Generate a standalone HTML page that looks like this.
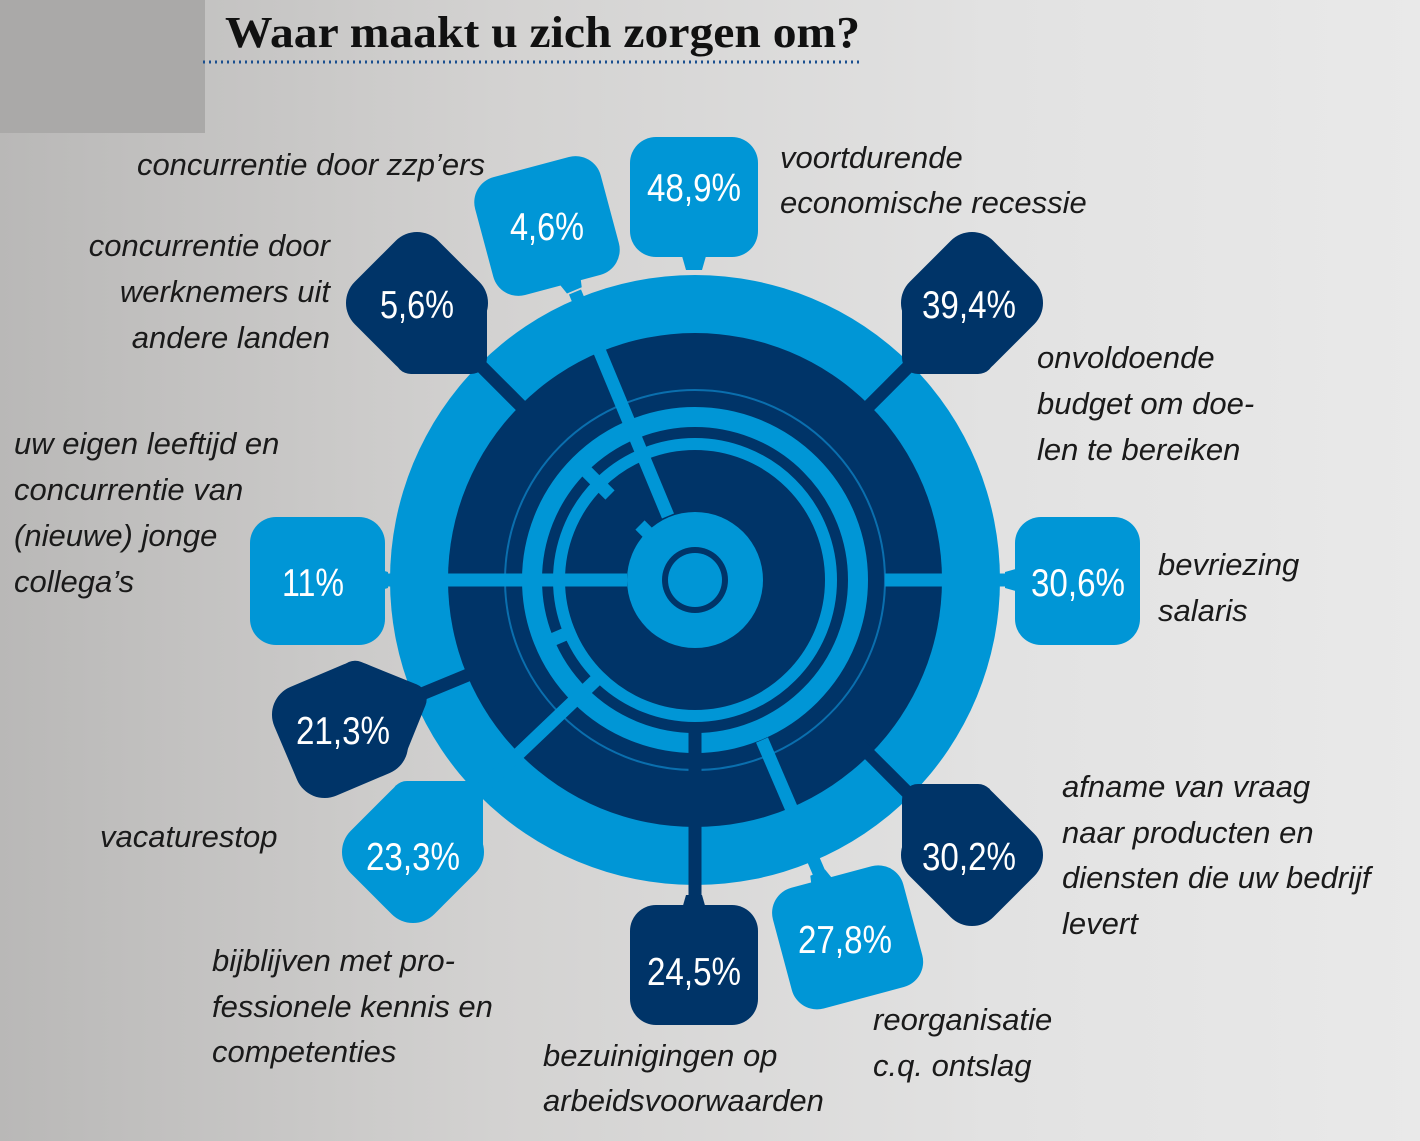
<!DOCTYPE html>
<html><head><meta charset="utf-8"><style>
html,body{margin:0;padding:0}
body{width:1420px;height:1141px;overflow:hidden;background:linear-gradient(90deg,#b9b8b7 0%,#d3d2d1 35%,#e2e2e2 70%,#e9e9e9 100%)}
svg{display:block}
.lbl{font-family:"Liberation Sans",sans-serif;font-style:italic;font-size:31px;fill:#1a1a1a}
.pct{font-family:"Liberation Sans Narrow","Liberation Sans",sans-serif;font-size:39px;fill:#fff;text-anchor:middle}
</style></head><body>
<svg width="1420" height="1141" viewBox="0 0 1420 1141">
<rect x="0" y="0" width="205" height="133" fill="#aaa9a8"/>
<text x="225" y="47" font-family="Liberation Serif,serif" font-weight="bold" font-size="44" fill="#111" textLength="635" lengthAdjust="spacingAndGlyphs">Waar maakt u zich zorgen om?</text>
<line x1="203" y1="62" x2="862" y2="62" stroke="#1a4f8f" stroke-width="3" stroke-dasharray="2,4"/>

<circle cx="695" cy="580" r="305" fill="#0096d6"/>
<circle cx="695" cy="580" r="247" fill="#003468"/>
<circle cx="695" cy="580" r="190" fill="none" stroke="#0a6fae" stroke-width="2"/>
<circle cx="695" cy="580" r="163" fill="none" stroke="#0096d6" stroke-width="20"/>
<circle cx="695" cy="580" r="136" fill="none" stroke="#0096d6" stroke-width="12"/>
<circle cx="695" cy="580" r="68" fill="#0096d6"/>
<circle cx="695" cy="580" r="33" fill="#003468"/>
<circle cx="695" cy="580" r="27" fill="#0096d6"/>

<g stroke-width="13" stroke-linecap="butt">
<line x1="668" y1="516" x2="575" y2="292" stroke="#0096d6"/>
<line x1="627" y1="580" x2="385" y2="580" stroke="#0096d6"/>
<line x1="885" y1="580" x2="1015" y2="580" stroke="#0096d6"/>
<line x1="762" y1="740" x2="820" y2="875" stroke="#0096d6"/>
<line x1="596" y1="680" x2="470" y2="800" stroke="#0096d6"/>
<line x1="575" y1="630" x2="540" y2="645" stroke="#0096d6"/>
<line x1="580" y1="465" x2="610" y2="495" stroke="#0096d6"/>
<line x1="869" y1="406" x2="915" y2="360" stroke="#003468"/>
<line x1="521" y1="406" x2="475" y2="360" stroke="#003468"/>
<line x1="695" y1="730" x2="695" y2="905" stroke="#003468"/>
<line x1="830" y1="715" x2="915" y2="800" stroke="#003468"/>
<line x1="480" y1="670" x2="400" y2="703" stroke="#003468"/>
<line x1="660" y1="545" x2="640" y2="525" stroke="#0096d6"/>
</g>

<defs>
<g id="tail"><path d="M-28,0 L28,0 L8,70 L-8,70 Z"/></g>
<g id="blob">
<rect x="-59" y="-59" width="118" height="118" rx="30" transform="rotate(45)"/>
<rect x="-70" y="-18" width="92" height="89" rx="16"/>
</g>
</defs>
<g fill="#0096d6">
<rect x="630" y="137" width="128" height="120" rx="26"/><use href="#tail" transform="translate(694,200) rotate(0)"/>
<rect x="482" y="165" width="130" height="122" rx="26" transform="rotate(-15 547 226)"/><use href="#tail" transform="translate(547,226) rotate(-23)"/>
<rect x="250" y="517" width="135" height="128" rx="26"/><use href="#tail" transform="translate(318,580) rotate(-90)"/>
<rect x="1015" y="517" width="125" height="128" rx="26"/><use href="#tail" transform="translate(1075,580) rotate(90)"/>
<use href="#blob" transform="translate(413,852) scale(-1,-1)"/>
<rect x="780" y="875" width="135" height="125" rx="26" transform="rotate(-15 847 937)"/><use href="#tail" transform="translate(845,937) rotate(157)"/>
</g>
<g fill="#003468">
<use href="#blob" transform="translate(417,303) scale(-1,1)"/>
<use href="#blob" transform="translate(972,303)"/>
<use href="#blob" transform="translate(972,855) scale(1,-1)"/>
<use href="#blob" transform="translate(340,730) rotate(202)"/>
<rect x="630" y="905" width="128" height="120" rx="26"/><use href="#tail" transform="translate(694,965) rotate(180)"/>
</g>
<g>
<text x="694" y="201" class="pct" textLength="94" lengthAdjust="spacingAndGlyphs">48,9%</text>
<text x="547" y="240" class="pct" textLength="74" lengthAdjust="spacingAndGlyphs">4,6%</text>
<text x="417" y="318" class="pct" textLength="74" lengthAdjust="spacingAndGlyphs">5,6%</text>
<text x="969" y="318" class="pct" textLength="94" lengthAdjust="spacingAndGlyphs">39,4%</text>
<text x="313" y="596" class="pct" textLength="62" lengthAdjust="spacingAndGlyphs">11%</text>
<text x="1078" y="596" class="pct" textLength="94" lengthAdjust="spacingAndGlyphs">30,6%</text>
<text x="343" y="744" class="pct" textLength="94" lengthAdjust="spacingAndGlyphs">21,3%</text>
<text x="413" y="870" class="pct" textLength="94" lengthAdjust="spacingAndGlyphs">23,3%</text>
<text x="694" y="985" class="pct" textLength="94" lengthAdjust="spacingAndGlyphs">24,5%</text>
<text x="845" y="953" class="pct" textLength="94" lengthAdjust="spacingAndGlyphs">27,8%</text>
<text x="969" y="870" class="pct" textLength="94" lengthAdjust="spacingAndGlyphs">30,2%</text>
</g>

<g class="lbl">
<text x="780" y="168">voortdurende</text>
<text x="780" y="213">economische recessie</text>
<text x="485" y="175" text-anchor="end">concurrentie door zzp’ers</text>
<text x="330" y="256" text-anchor="end">concurrentie door</text>
<text x="330" y="302" text-anchor="end">werknemers uit</text>
<text x="330" y="348" text-anchor="end">andere landen</text>
<text x="1037" y="368">onvoldoende</text>
<text x="1037" y="414">budget om doe-</text>
<text x="1037" y="460">len te bereiken</text>
<text x="14" y="454">uw eigen leeftijd en</text>
<text x="14" y="500">concurrentie van</text>
<text x="14" y="546">(nieuwe) jonge</text>
<text x="14" y="592">collega’s</text>
<text x="1158" y="575">bevriezing</text>
<text x="1158" y="621">salaris</text>
<text x="1062" y="797">afname van vraag</text>
<text x="1062" y="843">naar producten en</text>
<text x="1062" y="888">diensten die uw bedrijf</text>
<text x="1062" y="934">levert</text>
<text x="100" y="847">vacaturestop</text>
<text x="212" y="971">bijblijven met pro-</text>
<text x="212" y="1017">fessionele kennis en</text>
<text x="212" y="1062">competenties</text>
<text x="543" y="1066">bezuinigingen op</text>
<text x="543" y="1111">arbeidsvoorwaarden</text>
<text x="873" y="1030">reorganisatie</text>
<text x="873" y="1076">c.q. ontslag</text>
</g>
</svg>
</body></html>
